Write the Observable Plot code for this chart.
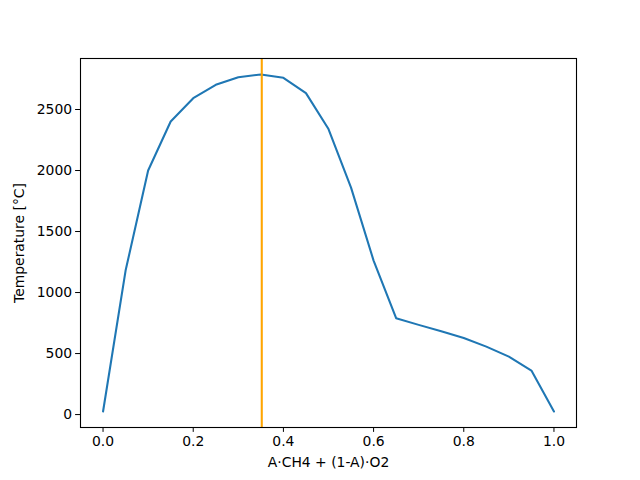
<!DOCTYPE html>
<html>
<head>
<meta charset="utf-8">
<script src="https://cdn.jsdelivr.net/npm/d3@7"></script>
<script src="https://cdn.jsdelivr.net/npm/@observablehq/plot@0.6"></script>
<style>
  html, body { margin: 0; padding: 0; background: white; }
</style>
</head>
<body>
<div id="chart"></div>
<script>
const fractionA = [0, 0.05, 0.1, 0.15, 0.2, 0.25, 0.3, 0.35, 0.4, 0.45, 0.5, 0.55, 0.6, 0.65, 0.7, 0.75, 0.8, 0.85, 0.9, 0.95, 1.0];
const temperature = [25, 1180, 2000, 2402, 2593, 2702, 2765, 2787, 2760, 2634, 2340, 1860, 1262, 790, 735, 683, 628, 557, 475, 361, 25];
const markerX = [0.352];
const xTicks = [0, 0.2, 0.4, 0.6, 0.8, 1.0];
const yTicks = [0, 500, 1000, 1500, 2000, 2500];

const data = fractionA.map((a, i) => ({a, t: temperature[i]}));

const chart = Plot.plot({
  width: 640,
  height: 480,
  marginLeft: 80,
  marginRight: 64,
  marginTop: 58,
  marginBottom: 53,
  style: {fontFamily: "DejaVu Sans", fontSize: "13.9px", color: "black", background: "white"},
  x: {domain: [-0.05, 1.05]},
  y: {domain: [-106, 2918]},
  marks: [
    Plot.line(data, {x: "a", y: "t", stroke: "#1f77b4", strokeWidth: 2.08}),
    Plot.ruleX(markerX, {stroke: "orange", strokeWidth: 2.08}),
    Plot.frame({stroke: "black", strokeWidth: 1.1}),
    Plot.axisX({ticks: xTicks, tickFormat: d3.format(".1f"), tickSize: 4.9, tickPadding: 3.5,
      label: "A·CH4 + (1-A)·O2", labelAnchor: "center", labelArrow: "none", labelOffset: 39, fontSize: 13.9}),
    Plot.axisY({ticks: yTicks, tickFormat: d => String(d), tickSize: 4.9, tickPadding: 3.5,
      label: "Temperature [°C]", labelAnchor: "center", labelArrow: "none", labelOffset: 66, fontSize: 13.9})
  ]
});
document.getElementById("chart").appendChild(chart);
</script>
</body>
</html>
